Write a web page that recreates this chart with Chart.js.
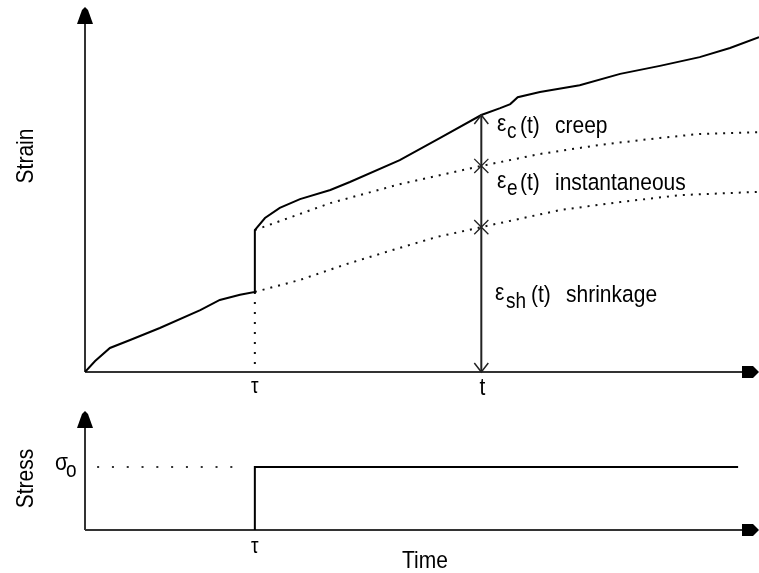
<!DOCTYPE html>
<html><head><meta charset="utf-8">
<script src="https://cdn.jsdelivr.net/npm/chart.js@4.4.1/dist/chart.umd.min.js"></script>
<style>
html,body{margin:0;padding:0;background:#fff;overflow:hidden;}
#wrap{position:relative;width:759px;height:573px;background:#fff;}
canvas{position:absolute;left:0;}
#c1{top:0;} #c2{top:400px;}
</style></head><body>
<div id="wrap"><canvas id="c1" width="759" height="400"></canvas><canvas id="c2" width="759" height="173"></canvas></div>
<script>
// Time axis in arbitrary units 0..100, strain and stress in arbitrary units 0..100
const TAU = 25.2;     // age at loading (τ)
const T_OBS = 58.8;   // observation time (t)
const SIGMA0 = 53.4;  // sustained stress level σo

// total strain curve
const totalTime   = [0, 1.5, 3.7, 6.7, 11.1, 17.1, 20.0, 23.0, 25.2, 25.2, 26.7, 28.9, 31.9, 36.4, 39.3, 46.7, 52.7, 58.8, 61.6, 63.1, 64.2, 67.5, 73.4, 79.4, 85.3, 91.2, 95.7, 100];
const totalStrain = [0, 3.0, 6.6, 8.8, 12.1, 17.0, 19.8, 21.2, 22.0, 39.0, 42.3, 45.1, 47.5, 50.0, 52.2, 58.2, 64.3, 70.6, 72.5, 73.6, 75.5, 76.9, 78.8, 81.9, 84.1, 86.5, 89.0, 92.0];
// shrinkage strain continuation (dotted)
const shrinkTime   = [25.2, 31.9, 38.9, 46.7, 52.2, 58.8, 70.5, 79.4, 88.3, 100];
const shrinkStrain = [22.0, 25.3, 29.7, 34.1, 37.1, 39.8, 44.5, 46.7, 48.6, 49.5];
// shrinkage + instantaneous strain (dotted)
const elasticTime   = [25.2, 36.4, 46.7, 58.8, 67.5, 76.4, 85.3, 91.2, 100];
const elasticStrain = [39.0, 46.4, 51.6, 56.6, 59.9, 62.4, 64.3, 65.4, 65.9];
// stress history
const stressTime  = [TAU, TAU, 96.9];
const stressValue = [0, SIGMA0, SIGMA0];
const sigmaGuideTime = [1.8, 23.7];

const FONT = '"Liberation Sans", Arial, sans-serif';
const pts = (xs, ys) => xs.map((x, i) => ({x, y: ys[i]}));

function txt(ctx, s, x, y, size, sy, align) {
  ctx.save(); ctx.translate(x, y); ctx.scale(1, sy);
  ctx.font = size + 'px ' + FONT; ctx.textAlign = align || 'left';
  ctx.textBaseline = 'alphabetic'; ctx.fillStyle = '#000';
  ctx.fillText(s, 0, 0); ctx.restore();
}
function vtxt(ctx, s, x, y, size, sy) {
  ctx.save(); ctx.translate(x, y); ctx.rotate(-Math.PI / 2); ctx.scale(1, sy);
  ctx.font = size + 'px ' + FONT; ctx.textAlign = 'center';
  ctx.textBaseline = 'alphabetic'; ctx.fillStyle = '#000';
  ctx.fillText(s, 0, 0); ctx.restore();
}
function poly(ctx, p) {
  ctx.beginPath(); ctx.moveTo(p[0][0], p[0][1]);
  for (let i = 1; i < p.length; i++) ctx.lineTo(p[i][0], p[i][1]);
  ctx.closePath(); ctx.fillStyle = '#000'; ctx.fill();
}
function drawAxes(chart) {
  const ctx = chart.ctx, xs = chart.scales.x, ys = chart.scales.y;
  const x0 = xs.getPixelForValue(0), y0 = ys.getPixelForValue(0);
  ctx.save(); ctx.strokeStyle = '#333'; ctx.lineWidth = 2;
  ctx.beginPath(); ctx.moveTo(x0, y0); ctx.lineTo(x0, ys.top + 8);
  ctx.moveTo(x0, y0); ctx.lineTo(xs.right - 8, y0); ctx.stroke();
  ctx.restore();
}
function drawArrowHeads(chart) {
  const ctx = chart.ctx, xs = chart.scales.x, ys = chart.scales.y;
  const x0 = xs.getPixelForValue(0), y0 = ys.getPixelForValue(0);
  const t = ys.top - 1, r = xs.right;
  poly(ctx, [[x0, t], [x0 + 3, t + 3], [x0 + 8, t + 17], [x0 - 8, t + 17], [x0 - 3, t + 3]]);
  poly(ctx, [[r - 17, y0 - 6], [r - 6, y0 - 6], [r, y0], [r - 6, y0 + 6], [r - 17, y0 + 6]]);
}

const topPlugin = {
  id: 'topDeco',
  beforeDatasetsDraw(chart) { drawAxes(chart); },
  afterDatasetsDraw(chart) {
    drawArrowHeads(chart);
    const ctx = chart.ctx, xs = chart.scales.x, ys = chart.scales.y;
    const tx = xs.getPixelForValue(T_OBS);
    const topY = ys.getPixelForValue(totalStrain[17]);
    const botY = ys.getPixelForValue(0);
    ctx.save(); ctx.strokeStyle = '#222'; ctx.lineWidth = 1.5;
    ctx.beginPath();
    ctx.moveTo(tx - 7, topY + 9); ctx.lineTo(tx, topY); ctx.lineTo(tx + 7, topY + 9);
    ctx.moveTo(tx - 7, botY - 9); ctx.lineTo(tx, botY); ctx.lineTo(tx + 7, botY - 9);
    ctx.stroke(); ctx.restore();
    const S = 21, SY = 1.17;
    // creep
    txt(ctx, 'ε', 497, 131, S, SY); txt(ctx, 'c', 507, 138, 19, SY); txt(ctx, '(t)', 520, 133, S, SY); txt(ctx, 'creep', 555, 133, S, SY);
    // instantaneous
    txt(ctx, 'ε', 497, 188, S, SY); txt(ctx, 'e', 507, 195, 19, SY); txt(ctx, '(t)', 520, 190, S, SY); txt(ctx, 'instantaneous', 555, 190, S, SY);
    // shrinkage
    txt(ctx, 'ε', 495, 300, S, SY); txt(ctx, 'sh', 506, 308, 19, SY); txt(ctx, '(t)', 531, 302, S, SY); txt(ctx, 'shrinkage', 566, 302, S, SY);
    // axis marks
    txt(ctx, 'τ', xs.getPixelForValue(TAU), 393, 19, SY, 'center');
    txt(ctx, 't', tx + 1, 395, S, SY, 'center');
    vtxt(ctx, 'Strain', 33, 156, S, 1.12);
  }
};

const botPlugin = {
  id: 'botDeco',
  beforeDatasetsDraw(chart) { drawAxes(chart); },
  afterDatasetsDraw(chart) {
    drawArrowHeads(chart);
    const ctx = chart.ctx, xs = chart.scales.x;
    const SY = 1.17;
    txt(ctx, 'σ', 55, 70, 21, SY); txt(ctx, 'o', 66, 77, 19, SY);
    txt(ctx, 'τ', xs.getPixelForValue(TAU), 153, 19, SY, 'center');
    txt(ctx, 'Time', 425, 168, 21, SY, 'center');
    vtxt(ctx, 'Stress', 33, 78.5, 21, 1.12);
  }
};

const common = (pad) => ({
  responsive: false, animation: false, devicePixelRatio: 1,
  layout: { padding: pad, autoPadding: false },
  plugins: { legend: { display: false }, tooltip: { enabled: false } },
  elements: { point: { radius: 0, hoverRadius: 0 }, line: { tension: 0 } },
  scales: {
    x: { type: 'linear', min: 0, max: 100, display: false },
    y: { type: 'linear', min: 0, max: 100, display: false }
  }
});

new Chart(document.getElementById('c1'), {
  type: 'line',
  data: { datasets: [
    { data: pts(totalTime, totalStrain), borderColor: '#000', borderWidth: 2 },
    { data: pts(shrinkTime, shrinkStrain), borderColor: '#111', borderWidth: 2, borderDash: [2, 6] },
    { data: pts(elasticTime, elasticStrain), borderColor: '#111', borderWidth: 2, borderDash: [2, 6] },
    { data: pts([TAU, TAU], [shrinkStrain[0], 0]), borderColor: '#111', borderWidth: 2, borderDash: [2, 8] },
    { data: pts([T_OBS, T_OBS], [0, totalStrain[17]]), borderColor: '#222', borderWidth: 2 },
    { data: pts([T_OBS, T_OBS], [shrinkStrain[5], elasticStrain[3]]), showLine: false,
      pointStyle: 'crossRot', pointRadius: 10, pointBorderColor: '#222', pointBorderWidth: 1.3, clip: false }
  ]},
  options: common({ left: 85, right: 0, top: 8, bottom: 28 }),
  plugins: [topPlugin]
});

new Chart(document.getElementById('c2'), {
  type: 'line',
  data: { datasets: [
    { data: pts(stressTime, stressValue), borderColor: '#000', borderWidth: 2 },
    { data: pts(sigmaGuideTime, [SIGMA0, SIGMA0]), borderColor: '#333', borderWidth: 2, borderDash: [2, 12.8] }
  ]},
  options: common({ left: 85, right: 0, top: 12, bottom: 43 }),
  plugins: [botPlugin]
});
</script>
</body></html>
